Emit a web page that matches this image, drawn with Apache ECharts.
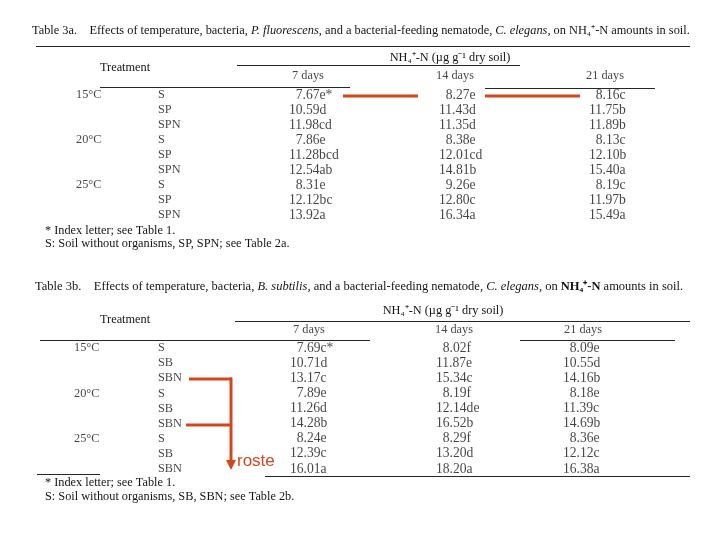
<!DOCTYPE html>
<html><head><meta charset="utf-8">
<script src="https://cdn.jsdelivr.net/npm/echarts@6/dist/echarts.min.js"></script>
<style>html,body{margin:0;padding:0;background:#fff}#c{width:720px;height:540px}</style>
</head><body><div id="c"></div>
<script>
// ---- data ----
const temps = ['15°C', '20°C', '25°C'];
const treatA = ['S', 'SP', 'SPN'];
const treatB = ['S', 'SB', 'SBN'];
const dayLabels = ['7 days', '14 days', '21 days'];
const d7A  = ['7.67e*', '10.59d', '11.98cd', '7.86e', '11.28bcd', '12.54ab', '8.31e', '12.12bc', '13.92a'];
const d14A = ['8.27e', '11.43d', '11.35d', '8.38e', '12.01cd', '14.81b', '9.26e', '12.80c', '16.34a'];
const d21A = ['8.16c', '11.75b', '11.89b', '8.13c', '12.10b', '15.40a', '8.19c', '11.97b', '15.49a'];
const d7B  = ['7.69c*', '10.71d', '13.17c', '7.89e', '11.26d', '14.28b', '8.24e', '12.39c', '16.01a'];
const d14B = ['8.02f', '11.87e', '15.34c', '8.19f', '12.14de', '16.52b', '8.29f', '13.20d', '18.20a'];
const d21B = ['8.09e', '10.55d', '14.16b', '8.18e', '11.39c', '14.69b', '8.36e', '12.12c', '16.38a'];
const colCats = ['temp', 'treat', 'd7', 'd14', 'd21'];
const rowCats = ['r1', 'r2', 'r3', 'r4', 'r5', 'r6', 'r7', 'r8', 'r9'];

// ---- style ----
const FONT = '"Liberation Serif","Times New Roman",serif';
const INK = '#141414';
const RED = '#d4461e';
const FS = 12.3;
const VFS = 13.6;

function cells(g, col, items, offX, offY, align, fs) {
  fs = fs || FS;
  return {
    type: 'scatter', xAxisIndex: g, yAxisIndex: g, symbolSize: 0, silent: true,
    data: items.map(it => ({
      value: [col, it.row], name: it.text,
      label: { offset: [offX + (it.extra || 0), offY] }
    })),
    label: {
      show: true, position: 'inside', formatter: p => p.name,
      align: align, verticalAlign: 'middle', color: INK, fontFamily: FONT, fontSize: fs
    }
  };
}
function vals(arr, fs) {
  return arr.map((t, i) => ({ row: rowCats[i], text: t, extra: /^\d\./.test(t) ? fs * 0.5 : 0 }));
}
function tempItems() { return temps.map((t, i) => ({ row: rowCats[i * 3], text: t })); }
function treatItems(tr) { return rowCats.map((r, i) => ({ row: r, text: tr[i % 3] })); }
function hdr(i) { return [{ row: rowCats[0], text: dayLabels[i] }]; }

const series = [
  cells(0, 'temp', tempItems(), 70, 0, 'left'),
  cells(0, 'treat', treatItems(treatA), 3, 0, 'left'),
  cells(0, 'd7', vals(d7A, VFS), -15, 0, 'left', VFS),
  cells(0, 'd14', vals(d14A, VFS), -14, 0, 'left', VFS),
  cells(0, 'd21', vals(d21A, VFS), -13, 0, 'left', VFS),
  cells(0, 'd7', hdr(0), 4, -19, 'center'),
  cells(0, 'd14', hdr(1), 2, -19, 'center'),
  cells(0, 'd21', hdr(2), 3, -19, 'center'),

  cells(1, 'temp', tempItems(), 68, 0, 'left'),
  cells(1, 'treat', treatItems(treatB), 3, 0, 'left'),
  cells(1, 'd7', vals(d7B, VFS), -14, 0, 'left', VFS),
  cells(1, 'd14', vals(d14B, VFS), -17, 0, 'left', VFS),
  cells(1, 'd21', vals(d21B, VFS), -39, 0, 'left', VFS),
  cells(1, 'd7', hdr(0), 5, -18, 'center'),
  cells(1, 'd14', hdr(1), 1, -18, 'center'),
  cells(1, 'd21', hdr(2), -19, -18, 'center')
];

function txt(x, y, text, extra) {
  return {
    type: 'text', silent: true,
    style: Object.assign({ x: x, y: y, text: text, fill: INK, font: FS + 'px ' + FONT, verticalAlign: 'middle' },
      extra || {})
  };
}
function ln(x1, y1, x2, y2, w, c) {
  return { type: 'line', silent: true, shape: { x1, y1, x2, y2 }, style: { stroke: c || '#262626', lineWidth: w || 1 } };
}
function richFor(fs) {
  return {
    i: { fontStyle: 'italic', fontFamily: FONT, fontSize: fs, fill: INK },
    b: { fontWeight: 'bold', fontFamily: FONT, fontSize: fs, fill: INK }
  };
}

const graphic = [
  // Table 3a
  txt(32, 31, 'Table 3a.    Effects of temperature, bacteria, {i|P. fluorescens}, and a bacterial-feeding nematode, {i|C. elegans}, on NH₄⁺-N amounts in soil.',
    { rich: richFor(12.35), font: '12.35px ' + FONT }),
  ln(36, 46.5, 690, 46.5, 1),
  txt(450, 58, 'NH₄⁺-N (µg g⁻¹ dry soil)', { align: 'center' }),
  txt(100, 68, 'Treatment'),
  ln(237, 65.5, 520, 65.5, 1),
  ln(100, 87.5, 350, 87.5, 1),
  ln(485, 88.5, 655, 88.5, 1),
  txt(45, 231, '* Index letter; see Table 1.'),
  txt(45, 244, 'S: Soil without organisms, SP, SPN; see Table 2a.'),
  ln(343, 96, 418, 96, 3, RED),
  ln(485, 96, 580, 96, 3, RED),

  // Table 3b
  txt(35, 287, 'Table 3b.    Effects of temperature, bacteria, {i|B. subtilis}, and a bacterial-feeding nematode, {i|C. elegans}, on {b|NH₄⁺-N} amounts in soil.',
    { rich: richFor(12.5), font: '12.5px ' + FONT }),
  txt(443, 311, 'NH₄⁺-N (µg g⁻¹ dry soil)', { align: 'center' }),
  txt(100, 320, 'Treatment'),
  ln(235, 321.5, 690, 321.5, 1),
  ln(40, 340.5, 370, 340.5, 1),
  ln(520, 340.5, 675, 340.5, 1),
  ln(37, 474.5, 100, 474.5, 1),
  ln(265, 476.5, 690, 476.5, 1),
  txt(45, 483, '* Index letter; see Table 1.'),
  txt(45, 497, 'S: Soil without organisms, SB, SBN; see Table 2b.'),

  ln(189, 379, 232, 379, 3, RED),
  ln(186, 425, 232, 425, 3, RED),
  ln(231, 377.5, 231, 462, 3, RED),
  { type: 'polygon', silent: true, shape: { points: [[226, 460], [236, 460], [231, 470]] }, style: { fill: RED } },
  txt(237, 461, 'roste', { fill: RED, font: '17px "Liberation Sans", Arial, sans-serif' })
];

const chart = echarts.init(document.getElementById('c'), null, { renderer: 'canvas' });
chart.setOption({
  backgroundColor: '#ffffff',
  animation: false,
  grid: [
    { left: 6, width: 596, top: 87.5, height: 135 },
    { left: 6, width: 596, top: 340.4, height: 136.1 }
  ],
  xAxis: [
    { type: 'category', data: colCats, boundaryGap: false, show: false, gridIndex: 0 },
    { type: 'category', data: colCats, boundaryGap: false, show: false, gridIndex: 1 }
  ],
  yAxis: [
    { type: 'category', data: rowCats, inverse: true, show: false, gridIndex: 0 },
    { type: 'category', data: rowCats, inverse: true, show: false, gridIndex: 1 }
  ],
  series: series,
  graphic: graphic
});
</script></body></html>
